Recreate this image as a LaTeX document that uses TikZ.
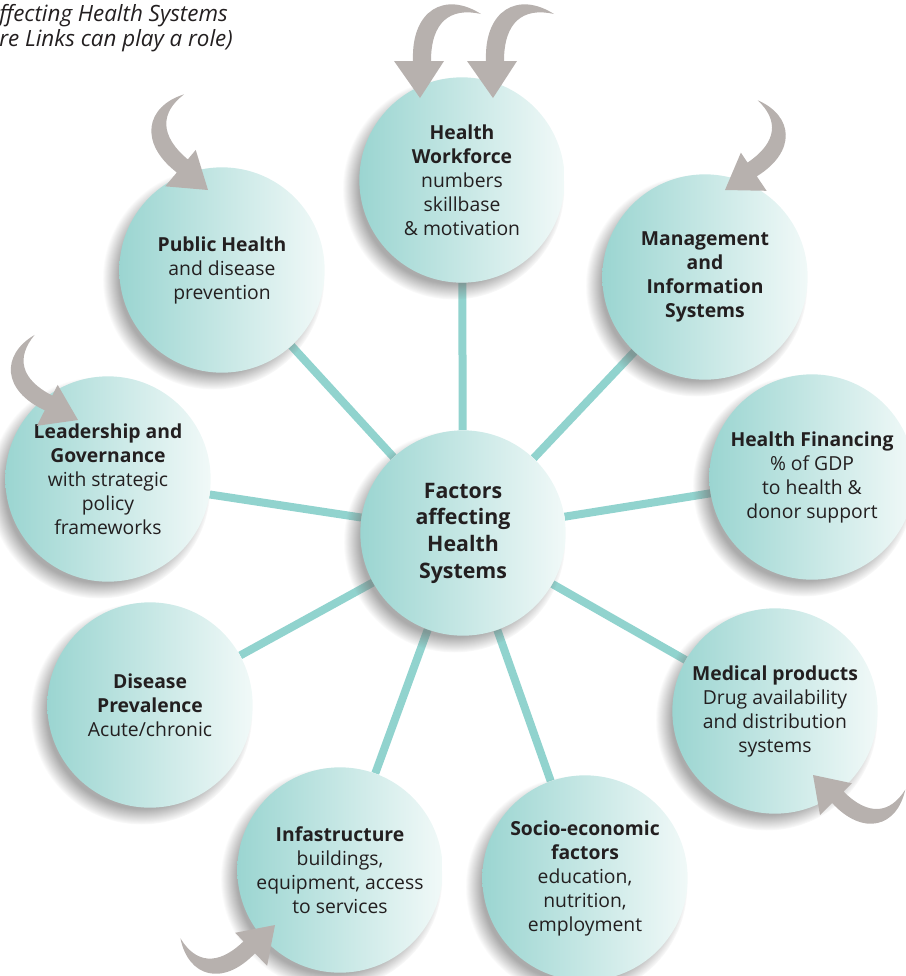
\documentclass[tikz,border=0pt]{standalone}
\usepackage{fontspec}
\setmainfont{Open Sans}
\usetikzlibrary{positioning,shadows,fadings,backgrounds}
\definecolor{tealdark}{RGB}{155,213,209}
\definecolor{teallight}{RGB}{241,249,248}
\definecolor{spokecol}{RGB}{145,211,206}
\definecolor{curlgray}{RGB}{183,177,174}
\definecolor{ink}{RGB}{35,31,32}
\tikzset{
    factor/.style = {
        shape=circle,
        minimum size=154pt,
        inner sep=0pt,
        align=center,
        left color=tealdark,
        right color=teallight,
        text=ink,
        font=\fontsize{14.5}{18}\selectfont,
        circular drop shadow={shadow xshift=-6pt, shadow yshift=-6pt, shadow scale=1.08, opacity=0.6, fill=black!55}
    },
    hub/.style = {
        factor,
        font=\fontsize{16}{20}\selectfont
    },
    spoke/.style = {
        draw=spokecol,
        line width=6pt
    },
    curl/.pic = {
        \fill[curlgray] (0,0) -- (-26,-37) -- (-7,-37)
            .. controls (-9,-88) and (25,-107) .. (61,-84)
            .. controls (30,-91) and (11,-76) .. (11,-37)
            -- (24,-37) -- cycle;
    },
}
\begin{document}
\begin{tikzpicture}[x=0.75pt, y=-0.75pt]
                \useasboundingbox (0,0) rectangle (906,976);
                \clip (0,0) rectangle (906,976);

                \node[factor] (work) at (462,180) {\textbf{Health}\\\textbf{Workforce}\\numbers\\skillbase\\\& motivation};
                \node[factor] (pubh) at (222,270) {\textbf{Public Health}\\and disease\\prevention};
                \node[factor] (mgmt) at (705,277) {\textbf{Management}\\\textbf{and}\\\textbf{Information}\\\textbf{Systems}};
                \node[factor] (lead) at (108,479) {\textbf{Leadership and}\\\textbf{Governance}\\with strategic\\policy\\frameworks};
                \node[factor] (fin) at (812,477) {\textbf{Health Financing}\\\% of GDP\\to health \&\\donor support};
                \node[factor] (dis) at (150,705) {\textbf{Disease}\\\textbf{Prevalence}\\Acute/chronic};
                \node[factor] (med) at (775,711) {\textbf{Medical products}\\Drug availability\\and distribution\\systems};
                \node[factor] (infra) at (340,870) {\textbf{Infastructure}\\buildings,\\equipment, access\\to services};
                \node[factor] (socio) at (585,878) {\textbf{Socio-economic}\\\textbf{factors}\\education,\\nutrition,\\employment};
                \node[hub] (core) at (463,533) {\textbf{Factors}\\\textbf{affecting}\\\textbf{Health}\\\textbf{Systems}};

                \begin{scope}[on background layer]
                \foreach \f in {work,pubh,mgmt,lead,fin,dis,med,infra,socio}
                    \path[spoke] (core) -- (\f);
                \end{scope}

                \pic at (420,98) {curl};
                \pic at (493,98) {curl};
                \pic[rotate=50, scale=0.95] at (208,190) {curl};
                \pic[rotate=-56, xscale=-1, scale=0.92] at (725,190) {curl};
                \pic[rotate=63, scale=0.92] at (78,420) {curl};
                \pic[rotate=-135, xscale=-1, scale=0.9] at (813,775) {curl};
                \pic[rotate=134, scale=0.92] at (275,925) {curl};

                \node[anchor=north west, align=left, inner sep=0pt, text=ink, font=\itshape\fontsize{16.8}{19}\selectfont] (heading) at (-1,4) {ffecting Health Systems\\re Links can play a role)};
            \end{tikzpicture}
\end{document}
